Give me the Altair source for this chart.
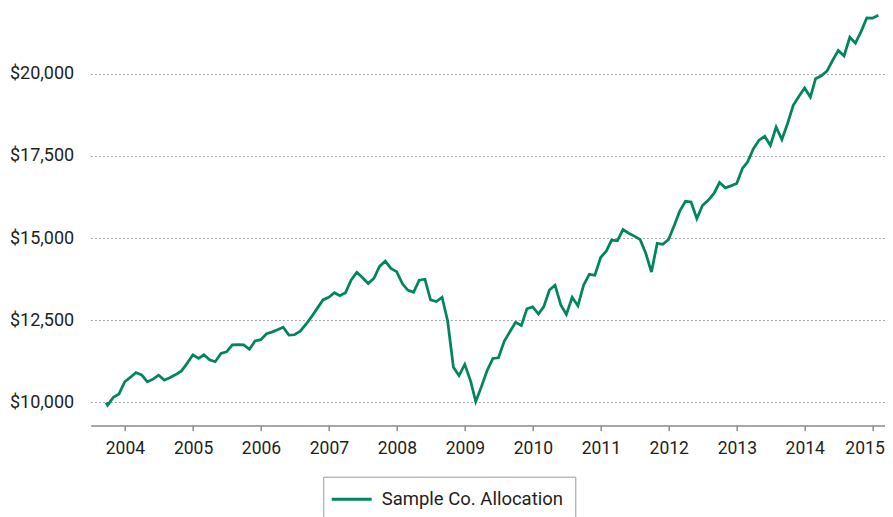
import altair as alt
import pandas as pd

series_name = "Sample Co. Allocation"
start_date = "2003-09-22"
start_value = 10000
first_month = (2003, 9)

values = [
    # 2003 Sep-Dec
    9920, 10160, 10260, 10630,
    # 2004
    10770, 10910, 10840, 10630, 10710, 10830, 10680, 10760, 10850, 10960, 11190, 11450,
    # 2005
    11340, 11450, 11300, 11240, 11490, 11540, 11750, 11760, 11750, 11620, 11870, 11910,
    # 2006
    12090, 12140, 12210, 12290, 12050, 12060, 12170, 12380, 12610, 12870, 13120, 13200,
    # 2007
    13340, 13250, 13340, 13720, 13960, 13800, 13620, 13780, 14140, 14300, 14080, 13980,
    # 2008
    13610, 13420, 13350, 13720, 13750, 13120, 13070, 13200, 12480, 11070, 10820, 11160,
    # 2009
    10660, 10030, 10490, 10970, 11340, 11360, 11860, 12160, 12440, 12340, 12850, 12910,
    # 2010
    12690, 12910, 13420, 13570, 12970, 12680, 13200, 12940, 13560, 13900, 13870, 14410,
    # 2011
    14610, 14940, 14920, 15260, 15150, 15060, 14960, 14530, 13970, 14840, 14810, 14960,
    # 2012
    15390, 15820, 16120, 16100, 15590, 15990, 16150, 16360, 16690, 16530, 16590, 16660,
    # 2013
    17120, 17320, 17720, 17980, 18100, 17820, 18380, 18000, 18480, 19040, 19310, 19565,
    # 2014
    19290, 19850, 19940, 20080, 20410, 20710, 20540, 21110, 20930, 21290, 21700, 21690,
    # 2015 Jan
    21780,
]

y_ticks = [10000, 12500, 15000, 17500, 20000]
x_tick_years = list(range(2004, 2016))

# month-end dates for each value
dates = [start_date]
yy, mm = first_month
for _ in values:
    d = pd.Timestamp(year=yy, month=mm, day=1) + pd.offsets.MonthEnd(0)
    dates.append(d.strftime("%Y-%m-%d"))
    mm += 1
    if mm > 12:
        mm = 1
        yy += 1

df = pd.DataFrame({
    "date": dates,
    "value": [start_value] + values,
    "series": series_name,
})

line_color = "#00855F"
text_color = "#1e1e1e"

chart = alt.Chart(df).mark_line(strokeWidth=2.75).encode(
    x=alt.X(
        "date:T",
        scale=alt.Scale(
            domain=[alt.DateTime(year=2003, month=7, date=1),
                    alt.DateTime(year=2015, month=3, date=8)],
            nice=False,
        ),
        axis=alt.Axis(
            values=[alt.DateTime(year=y, month=1, date=1) for y in x_tick_years],
            format="%Y",
            title=None,
            grid=False,
            domainColor="#8a8a8a",
            domainWidth=1.5,
            tickColor="#8a8a8a",
            tickWidth=1.5,
            tickSize=5,
            labelPadding=9,
            labelFontSize=17.5,
            labelColor=text_color,
            labelFlush=16,
            labelFlushOffset=11.5,
        ),
    ),
    y=alt.Y(
        "value:Q",
        scale=alt.Scale(domain=[9300, 22000], nice=False, zero=False),
        axis=alt.Axis(
            values=y_ticks,
            format="$,.0f",
            title=None,
            grid=True,
            gridColor="#8f8f8f",
            gridDash=[1.5, 2.5],
            gridWidth=1,
            domain=False,
            ticks=False,
            labelPadding=17,
            labelFontSize=18,
            labelColor=text_color,
        ),
    ),
    color=alt.Color(
        "series:N",
        title=None,
        scale=alt.Scale(range=[line_color]),
        legend=alt.Legend(
            orient="none",
            legendX=232.6,
            legendY=468.7,
            symbolType="M-2.222,0H2.222",
            symbolSize=324,
            symbolStrokeWidth=3,
            symbolOffset=5.9,
            labelFontSize=18.5,
            labelColor=text_color,
            labelOffset=19.5,
            labelLimit=0,
            padding=12,
            strokeColor="#9a9a9a",
            fillColor="white",
            cornerRadius=0,
        ),
    ),
).properties(
    width=794.3,
    height=417.5,
    autosize="none",
    padding={"left": 82.7, "top": 0, "right": 0, "bottom": 91.5},
).configure(
    font="Roboto",
).configure_view(
    stroke=None,
)

chart.save("out.html", embed_options={"renderer": "svg", "actions": False})
